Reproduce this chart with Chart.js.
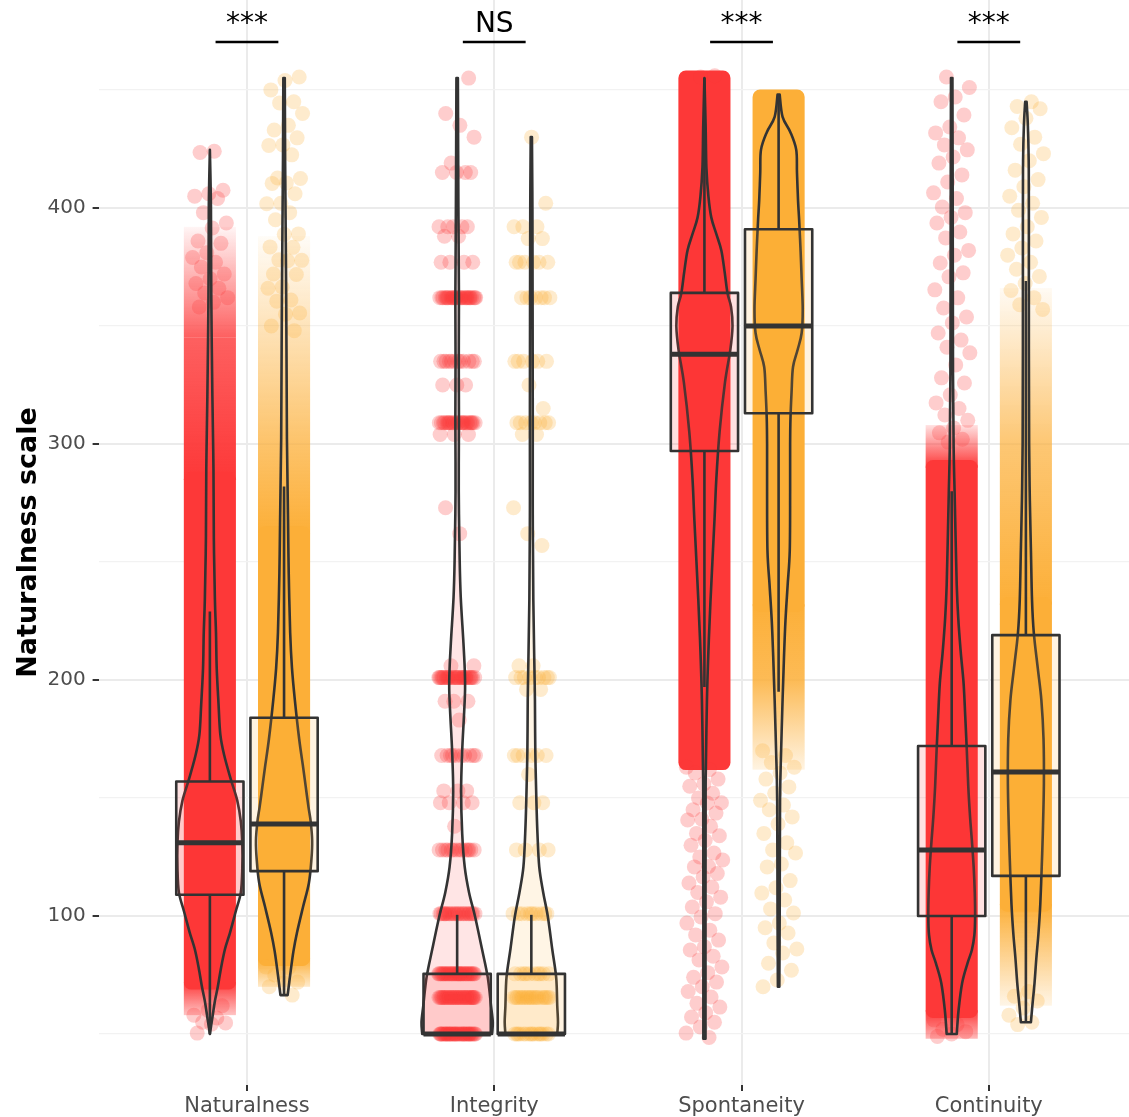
<!DOCTYPE html>
<html>
<head>
<meta charset="utf-8">
<script src="https://cdn.jsdelivr.net/npm/chart.js@4.4.1/dist/chart.umd.min.js"></script>
<style>
  html, body { margin: 0; padding: 0; background: #fff; }
  #wrap { width: 1129px; height: 1117px; }
</style>
</head>
<body>
<div id="wrap"><canvas id="chart" width="1129" height="1117"></canvas></div>
<script>
// categories and annotations
const categories = ['Naturalness', 'Integrity', 'Spontaneity', 'Continuity'];
const significance = ['***', 'NS', '***', '***'];
const yTicks = [50, 100, 150, 200, 250, 300, 350, 400, 450];

// box statistics (red group / orange group)
const redQ1 = [109, 50, 297, 100];
const redMedian = [131, 50, 338, 128];
const redQ3 = [157, 75.5, 364, 172];
const redWhiskerLow = [50, 50, 197, 50];
const redWhiskerHigh = [229, 100.5, 455, 280];

const orangeQ1 = [119, 50, 313, 117];
const orangeMedian = [139, 50, 350, 161];
const orangeQ3 = [184, 75.5, 391, 219];
const orangeWhiskerLow = [67, 50, 195, 55];
const orangeWhiskerHigh = [282, 100.5, 448, 369];

// violin profiles: [value, relative density]
const violinNatRed = [[50,0],[56,.06],[64,.14],[70,.22],[78,.31],[86,.42],[93,.56],[102,.72],[110,.86],[120,.90],[131,.90],[140,.86],[149,.76],[158,.58],[168,.40],[177,.29],[190,.24],[205,.19],[220,.17],[234,.14],[260,.11],[289,.10],[320,.07],[361,.04],[400,.03],[424.6,0]];
const violinNatOrange = [[66.5,.10],[75,.17],[85,.26],[93,.36],[104,.53],[114,.69],[124,.76],[132,.78],[140,.74],[146,.68],[155,.60],[163,.53],[175,.42],[191.5,.30],[205,.22],[220,.17],[245,.13],[268,.11],[302,.08],[361,.06],[420,.03],[455,.02]];
const violinIntRed = [[50,.97],[55,.99],[62,.94],[74,.85],[86,.69],[99.6,.50],[110,.33],[120.8,.21],[135,.14],[153,.11],[170,.14],[185,.19],[196,.22],[205,.21],[217,.17],[235,.10],[251,.07],[280,.045],[310,.05],[335,.045],[362,.05],[400,.035],[455,.02]];
const violinIntOrange = [[50,.72],[55,.74],[62,.72],[74,.69],[86,.58],[99.6,.46],[110,.33],[120.8,.22],[135,.17],[149,.14],[170,.11],[191.5,.10],[210,.08],[234,.055],[270,.04],[310,.04],[362,.035],[400,.03],[430,.017]];
const violinSpontRed = [[48,.03],[100,.03],[150,.033],[163,.04],[191.5,.07],[212,.11],[234,.17],[268,.28],[285,.33],[305,.42],[326,.57],[340,.72],[350,.78],[358,.74],[364,.64],[373,.56],[382,.47],[389,.33],[396,.19],[405,.11],[417,.055],[435,.033],[455,0]];
const violinSpontOrange = [[70,.02],[100,.03],[149,.04],[170,.07],[191.5,.11],[210,.15],[225,.19],[240,.25],[255,.31],[280,.32],[300,.32],[311,.33],[322,.36],[332.6,.40],[340,.53],[347,.64],[357,.67],[370,.64],[382,.61],[395,.57],[403,.54],[415,.51],[424.6,.49],[432,.33],[438.6,.11],[448,.03]];
const violinContRed = [[50,.14],[60,.19],[71.6,.29],[80,.44],[85.6,.56],[92,.63],[99.6,.65],[110,.64],[120.8,.61],[132,.56],[142,.51],[155,.46],[170,.42],[185,.375],[198.7,.33],[212,.25],[226.7,.18],[240,.14],[259,.11],[280,.08],[297,.055],[330,.036],[400,.028],[455,.02]];
const violinContOrange = [[55,.14],[62,.18],[71.6,.24],[82,.29],[92.8,.35],[105,.40],[120.8,.44],[135,.47],[156,.50],[175,.49],[191.5,.43],[205,.33],[220,.22],[234,.17],[255,.14],[276,.11],[300,.09],[340,.083],[396,.083],[420,.078],[435,.055],[445,.02]];

// jittered observations: dense cores [lo, hi], fading ranges [lo, hi, densityLo, densityHi], single values
const natRedCore = [72, 285];
const natRedHaze = [[58, 72, 0.3, 1], [285, 345, 1, 0.8], [345, 392, 0.8, 0.05]];
const natRedPoints = [424, 423.5, 407.5, 406, 405, 404, 398, 393.6, 391.5, 386, 385, 381, 379, 377, 375, 372, 370, 368, 366, 364, 362, 360, 358, 62, 60, 58, 56.8, 55, 54.7, 54.2, 50.4];

const natOrangeCore = [82, 262];
const natOrangeHaze = [[70, 82, 0.25, 1], [262, 300, 1, 0.75], [300, 388, 0.75, 0.04]];
const natOrangePoints = [455.5, 454, 450, 445, 444.5, 440, 435, 433, 429.7, 426.7, 426.5, 422.5, 412.7, 412.5, 410.6, 410.4, 406, 402, 401.8, 398, 395, 389, 388.8, 383.5, 383.3, 378, 377.8, 377.6, 372, 371.8, 366.5, 366, 361, 360.5, 355.5, 355, 350, 348, 80, 78.4, 78.2, 75, 72, 71.6, 70, 66.5];

const intRedLevels = [50, 65.5, 75.5, 101, 128, 138, 148, 153, 168, 183, 191, 201, 206, 262, 273, 304, 309, 325, 335, 362, 377, 388, 392, 415, 419, 430, 435, 440, 455];
const intRedCounts = [40, 35, 35, 22, 14, 1, 4, 3, 10, 1, 3, 28, 2, 1, 1, 3, 24, 3, 12, 28, 4, 2, 5, 4, 1, 1, 1, 1, 1];
const intOrangeLevels = [50, 65.5, 75.5, 101, 128, 148, 160, 168, 196, 201, 206, 257, 262, 273, 304, 309, 315, 325, 335, 362, 377, 387, 392, 402, 430];
const intOrangeCounts = [16, 20, 10, 10, 4, 3, 1, 6, 2, 9, 2, 1, 1, 1, 2, 8, 1, 1, 6, 7, 6, 2, 3, 1, 1];

const spontRedCore = [165, 455];
const spontRedPoints = [456, 455.5, 163, 162, 160.6, 158, 156, 155, 152, 150, 148, 147.9, 145, 143.6, 141, 140.7, 138, 135, 134, 132, 130, 126.7, 125, 123.7, 121, 120.8, 118, 116.5, 114, 112.3, 110, 108, 106, 103.8, 101, 99.6, 97, 94, 92, 89.8, 87, 85.6, 83, 81.4, 78.4, 76, 74, 72, 70, 68, 65.7, 63, 61.4, 59, 57.2, 55, 53, 50.4, 48.5];

const spontOrangeCore = [232, 447];
const spontOrangeHaze = [[200, 232, 0.85, 1], [162, 200, 0.15, 0.85]];
const spontOrangePoints = [170, 168, 165, 163, 160.6, 158, 154.7, 152, 149, 147, 145, 142, 139, 135, 131, 128, 126.7, 122, 120.8, 115, 112, 109.7, 106.8, 103, 101.3, 97, 95, 92.8, 88.6, 86, 84.3, 80, 77, 72.9, 70];

const contRedCore = [60, 290];
const contRedHaze = [[48, 60, 0.35, 1], [290, 308, 1, 0.15]];
const contRedPoints = [455.5, 451, 447, 445, 439.4, 434.3, 431.8, 429.7, 426.7, 424.6, 421.6, 419, 414, 411, 406.4, 404, 400.4, 398, 396, 393.6, 389.8, 387.3, 382, 380, 376.7, 372.5, 370.8, 365.3, 361.9, 357.6, 353.8, 351.3, 347, 344, 341, 338.6, 333.5, 328, 325.8, 320.8, 317.4, 315, 312.3, 310, 306.8, 304.7, 302, 300.8, 56, 54, 52, 51, 50, 49];

const contOrangeCore = [105, 232];
const contOrangeHaze = [[62, 105, 0.12, 1], [232, 300, 1, 0.7], [300, 366, 0.7, 0.06]];
const contOrangePoints = [445, 443, 442, 438, 434, 430, 427, 423, 420, 416, 412, 409, 405, 402, 399, 396, 392, 389, 386, 383, 380, 377, 374, 371, 368, 365, 362, 359, 357, 68, 66, 64, 61, 58, 55, 54];

// ---- styling constants
const RED = [253, 56, 56];
const ORANGE = [252, 175, 56];
const OUTLINE = '#333333';
const OFFSET = 0.15;       // dodge of each group from category centre
const JITTER = 0.075;      // horizontal jitter half width
const BOX_HALF = 0.136;
const VIOLIN_HALF = 0.1456;
const POINT_R = 7.5;

function rgba(c, a) { return 'rgba(' + c[0] + ',' + c[1] + ',' + c[2] + ',' + a + ')'; }

function expand(levels, counts) {
    const out = [];
    levels.forEach((v, i) => { for (let k = 0; k < counts[i]; k++) out.push(v); });
    return out;
}

function group(cat, side, color, core, haze, points, violin) {
    const i = cat - 1;
    const red = side < 0;
    return {
        cat, side, color, core, haze, points, violin,
        q1: (red ? redQ1 : orangeQ1)[i],
        med: (red ? redMedian : orangeMedian)[i],
        q3: (red ? redQ3 : orangeQ3)[i],
        wlo: (red ? redWhiskerLow : orangeWhiskerLow)[i],
        whi: (red ? redWhiskerHigh : orangeWhiskerHigh)[i]
    };
}

const groups = [
    group(1, -1, RED, natRedCore, natRedHaze, natRedPoints, violinNatRed),
    group(1, 1, ORANGE, natOrangeCore, natOrangeHaze, natOrangePoints, violinNatOrange),
    group(2, -1, RED, null, [], expand(intRedLevels, intRedCounts), violinIntRed),
    group(2, 1, ORANGE, null, [], expand(intOrangeLevels, intOrangeCounts), violinIntOrange),
    group(3, -1, RED, spontRedCore, [], spontRedPoints, violinSpontRed),
    group(3, 1, ORANGE, spontOrangeCore, spontOrangeHaze, spontOrangePoints, violinSpontOrange),
    group(4, -1, RED, contRedCore, contRedHaze, contRedPoints, violinContRed),
    group(4, 1, ORANGE, contOrangeCore, contOrangeHaze, contOrangePoints, violinContOrange)
];

// deterministic jitter (golden ratio sequence)
function jittered(g, gi) {
    return g.points.map((v, k) => {
        const f = ((k + 1) * 0.6180339887 + gi * 0.29) % 1;
        return { x: g.cat + g.side * OFFSET + (f - 0.5) * 2 * JITTER, y: v };
    });
}

const redData = [], orangeData = [];
groups.forEach((g, gi) => {
    const pts = jittered(g, gi);
    (g.side < 0 ? redData : orangeData).push(...pts);
});

// smooth curve through pixel points
function smoothThrough(ctx, pts, moveFirst) {
    if (moveFirst) ctx.moveTo(pts[0][0], pts[0][1]); else ctx.lineTo(pts[0][0], pts[0][1]);
    for (let i = 0; i < pts.length - 1; i++) {
        const p0 = pts[i - 1] || pts[i], p1 = pts[i], p2 = pts[i + 1], p3 = pts[i + 2] || pts[i + 1];
        ctx.bezierCurveTo(
            p1[0] + (p2[0] - p0[0]) / 6, p1[1] + (p2[1] - p0[1]) / 6,
            p2[0] - (p3[0] - p1[0]) / 6, p2[1] - (p3[1] - p1[1]) / 6,
            p2[0], p2[1]);
    }
}

const layersPlugin = {
    id: 'layers',
    beforeDatasetsDraw(chart) {
        const { ctx, scales: { x, y } } = chart;
        ctx.save();
        groups.forEach(g => {
            const cx = x.getPixelForValue(g.cat + g.side * OFFSET);
            const hw = x.getPixelForValue(JITTER) - x.getPixelForValue(0) + POINT_R;
            g.haze.forEach(([lo, hi, aLo, aHi]) => {
                const top = y.getPixelForValue(hi), bot = y.getPixelForValue(lo);
                const grad = ctx.createLinearGradient(0, bot, 0, top);
                grad.addColorStop(0, rgba(g.color, aLo));
                grad.addColorStop(1, rgba(g.color, aHi));
                ctx.fillStyle = grad;
                ctx.fillRect(cx - hw, top, 2 * hw, bot - top);
            });
            if (g.core) {
                const top = y.getPixelForValue(g.core[1]) - POINT_R;
                const bot = y.getPixelForValue(g.core[0]) + POINT_R;
                ctx.fillStyle = rgba(g.color, 1);
                ctx.beginPath();
                ctx.roundRect(cx - hw, top, 2 * hw, bot - top, POINT_R);
                ctx.fill();
            }
        });
        ctx.restore();
    },
    afterDatasetsDraw(chart) {
        const { ctx, scales: { x, y } } = chart;
        ctx.save();
        ctx.strokeStyle = OUTLINE;
        ctx.lineJoin = 'round';
        groups.forEach(g => {
            const c = g.cat + g.side * OFFSET;
            const cx = x.getPixelForValue(c);
            const vw = x.getPixelForValue(VIOLIN_HALF) - x.getPixelForValue(0);
            // violin
            const right = g.violin.map(([v, d]) => [cx + d * vw, y.getPixelForValue(v)]);
            const left = g.violin.map(([v, d]) => [cx - d * vw, y.getPixelForValue(v)]).reverse();
            ctx.beginPath();
            smoothThrough(ctx, right, true);
            smoothThrough(ctx, left, false);
            ctx.closePath();
            ctx.fillStyle = rgba(g.color, 0.13);
            ctx.fill();
            ctx.lineWidth = 2.6;
            ctx.stroke();
            // box
            const bx0 = x.getPixelForValue(c - BOX_HALF), bx1 = x.getPixelForValue(c + BOX_HALF);
            const yq1 = y.getPixelForValue(g.q1), yq3 = y.getPixelForValue(g.q3);
            ctx.lineWidth = 2.6;
            ctx.beginPath();
            ctx.moveTo(cx, yq3); ctx.lineTo(cx, y.getPixelForValue(g.whi));
            ctx.moveTo(cx, yq1); ctx.lineTo(cx, y.getPixelForValue(g.wlo));
            ctx.stroke();
            ctx.fillStyle = rgba(g.color, 0.15);
            ctx.fillRect(bx0, yq3, bx1 - bx0, yq1 - yq3);
            ctx.strokeRect(bx0, yq3, bx1 - bx0, yq1 - yq3);
            ctx.lineWidth = 5;
            ctx.beginPath();
            ctx.moveTo(bx0, y.getPixelForValue(g.med));
            ctx.lineTo(bx1, y.getPixelForValue(g.med));
            ctx.stroke();
        });
        ctx.restore();
    },
    afterDraw(chart) {
        const { ctx, scales: { x, y } } = chart;
        ctx.save();
        ctx.fillStyle = '#000';
        ctx.strokeStyle = '#000';
        ctx.lineWidth = 2.6;
        ctx.font = '28px "DejaVu Sans"';
        ctx.textAlign = 'center';
        ctx.textBaseline = 'alphabetic';
        significance.forEach((s, i) => {
            const cx = x.getPixelForValue(i + 1);
            ctx.fillText(s, cx, y.getPixelForValue(474.5));
            const ly = y.getPixelForValue(470.3);
            ctx.beginPath();
            ctx.moveTo(x.getPixelForValue(i + 1 - 0.127), ly);
            ctx.lineTo(x.getPixelForValue(i + 1 + 0.127), ly);
            ctx.stroke();
        });
        ctx.restore();
    }
};

new Chart(document.getElementById('chart'), {
    type: 'scatter',
    data: {
        datasets: [
            { data: redData, backgroundColor: rgba(RED, 0.25), borderWidth: 0, pointRadius: POINT_R, pointHoverRadius: POINT_R },
            { data: orangeData, backgroundColor: rgba(ORANGE, 0.25), borderWidth: 0, pointRadius: POINT_R, pointHoverRadius: POINT_R }
        ]
    },
    options: {
        responsive: false,
        devicePixelRatio: 1,
        animation: false,
        layout: { padding: 0, autoPadding: false },
        plugins: { legend: { display: false }, tooltip: { enabled: false } },
        scales: {
            x: {
                type: 'linear',
                min: 0.4,
                max: 4.567,
                afterBuildTicks: s => { s.ticks = [1, 2, 3, 4].map(v => ({ value: v })); },
                afterFit: s => { s.height = 32; s.paddingLeft = 0; s.paddingRight = 0; },
                border: { display: false },
                grid: { color: '#EBEBEB', lineWidth: 2, tickColor: OUTLINE, tickLength: 6, tickWidth: 2 },
                ticks: {
                    callback: v => categories[v - 1],
                    color: '#4D4D4D',
                    font: { family: 'DejaVu Sans', size: 21 },
                    maxRotation: 0,
                    padding: 3
                }
            },
            y: {
                type: 'linear',
                min: 28.4,
                max: 488.1,
                afterBuildTicks: s => { s.ticks = yTicks.map(v => ({ value: v })); },
                afterFit: s => { s.width = 98.6; s.paddingTop = 0; s.paddingBottom = 0; },
                border: { display: false },
                grid: {
                    color: ctx => ctx.tick && ctx.tick.value % 100 === 0 ? '#EBEBEB' : '#F2F2F2',
                    lineWidth: ctx => ctx.tick && ctx.tick.value % 100 === 0 ? 2 : 1.2,
                    tickColor: ctx => ctx.tick && ctx.tick.value % 100 === 0 ? OUTLINE : 'rgba(0,0,0,0)',
                    tickLength: 6,
                    tickWidth: 2
                },
                ticks: {
                    callback: v => v % 100 === 0 ? String(v) : '',
                    color: '#4D4D4D',
                    font: { family: 'DejaVu Sans', size: 20 },
                    padding: 7
                },
                title: {
                    display: true,
                    text: 'Naturalness scale',
                    color: '#000',
                    font: { family: 'DejaVu Sans', size: 27, weight: 'bold' },
                    padding: { top: 13, bottom: 0 }
                }
            }
        }
    },
    plugins: [layersPlugin]
});
</script>
</body>
</html>
